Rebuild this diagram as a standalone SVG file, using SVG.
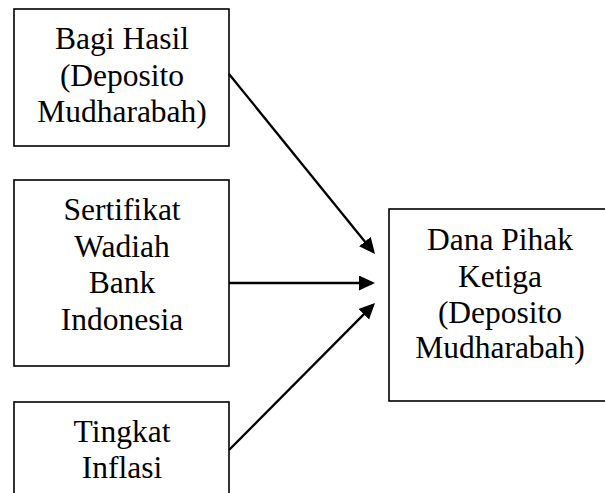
<svg xmlns="http://www.w3.org/2000/svg" width="605" height="493" viewBox="0 0 605 493">
  <style>
    .box { fill: #ffffff; stroke: #000000; stroke-width: 1.6; }
    .lbl { font-family: "Liberation Serif", "Times New Roman", serif; font-size: 31.5px; fill: #000000; text-anchor: middle; }
    .conn { stroke: #000000; stroke-width: 2.3; fill: none; marker-end: url(#arrow); }
  </style>
  <defs>
    <marker id="arrow" markerUnits="userSpaceOnUse" markerWidth="18" markerHeight="16" refX="13" refY="7.5" orient="auto">
      <path d="M0,0 L16,7.5 L0,15 z" fill="#000000"/>
    </marker>
  </defs>
  <rect width="605" height="493" fill="#ffffff"/>
  <g id="node-bagi-hasil">
    <rect class="box" x="14" y="9" width="215" height="137"/>
    <text class="lbl" x="122" y="49">Bagi Hasil</text>
    <text class="lbl" x="122" y="86">(Deposito</text>
    <text class="lbl" x="122" y="122">Mudharabah)</text>
  </g>
  <g id="node-swbi">
    <rect class="box" x="14" y="180" width="215" height="186"/>
    <text class="lbl" x="122" y="220">Sertifikat</text>
    <text class="lbl" x="122" y="257">Wadiah</text>
    <text class="lbl" x="122" y="293">Bank</text>
    <text class="lbl" x="122" y="330">Indonesia</text>
  </g>
  <g id="node-inflasi">
    <rect class="box" x="14" y="402" width="215" height="120"/>
    <text class="lbl" x="122" y="442">Tingkat</text>
    <text class="lbl" x="122" y="478">Inflasi</text>
  </g>
  <g id="node-dpk">
    <rect class="box" x="389" y="209" width="222" height="192"/>
    <text class="lbl" x="500" y="250">Dana Pihak</text>
    <text class="lbl" x="500" y="287">Ketiga</text>
    <text class="lbl" x="500" y="323">(Deposito</text>
    <text class="lbl" x="500" y="358">Mudharabah)</text>
  </g>
  <g id="connectors">
    <line class="conn" x1="229" y1="74" x2="373.1" y2="251.7"/>
    <line class="conn" x1="229" y1="283" x2="372" y2="283"/>
    <line class="conn" x1="229" y1="450" x2="372.9" y2="305.1"/>
  </g>
</svg>
